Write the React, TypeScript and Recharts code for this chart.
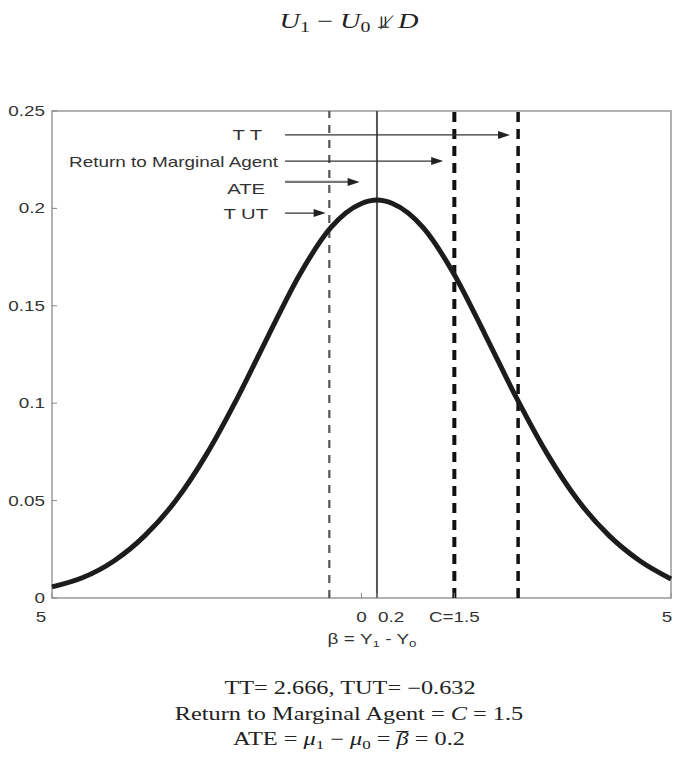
import React from "react";
import {
  LineChart,
  Line,
  XAxis,
  YAxis,
  ReferenceLine,
  ReferenceArea,
} from "recharts";

// density of beta = Y1 - Y0
const betaValues = [
  -5, -4.5, -4, -3.5, -3, -2.5, -2, -1.5, -1, -0.5, 0, 0.25, 0.5, 1, 1.5, 2,
  2.5, 3, 3.5, 4, 4.5, 5,
];
const densityValues = [
  0.0057, 0.0105, 0.019, 0.032, 0.05, 0.074, 0.103, 0.135, 0.166, 0.19,
  0.2025, 0.2043, 0.2025, 0.19, 0.166, 0.135, 0.103, 0.074, 0.05, 0.032, 0.019,
  0.0098,
];

const xTickValues = [-5, 0, 0.25, 1.5, 5];
const xTickLabels = ["5", "0", "0.2", "C=1.5", "5"];
const yTickValues = [0, 0.05, 0.1, 0.15, 0.2, 0.25];
const yTickLabels = ["0", "0.05", "0.1", "0.15", "0.2", "0.25"];

// vertical markers: TUT, ATE (solid), C, TT
const tutX = -0.52;
const ateX = 0.25;
const marginalX = 1.5;
const ttX = 2.53;

// arrows pointing at the markers
const arrowLabels = ["T T", "Return to Marginal Agent", "ATE", "T UT"];
const arrowStart = -1.235;
const arrowEnds = [2.4, 1.32, -0.03, -0.58];
const arrowLevels = [0.2377, 0.2243, 0.2136, 0.1976];

const data = betaValues.map((b, i) => ({ beta: b, density: densityValues[i] }));

const SANS = "'Liberation Sans', Arial, sans-serif";
const SERIF = "'Liberation Serif', 'Times New Roman', serif";
const STRETCH = 1.35;

// per-tick nudges so labels sit where the figure has them
const xTickShift = [
  { dx: -11, anchor: "middle" },
  { dx: 0, anchor: "middle" },
  { dx: 1, anchor: "start" },
  { dx: 0, anchor: "middle" },
  { dx: -4, anchor: "middle" },
];

const XTick = (props: any) => {
  const { x, y, index } = props;
  const st = xTickShift[index] || { dx: 0, anchor: "middle" };
  return (
    <g>
      <line x1={x} y1={y} x2={x} y2={y - 5} stroke="#888" />
      <text
        transform={`translate(${x + st.dx} ${y + 19}) scale(${STRETCH} 1)`}
        textAnchor={st.anchor}
        dy="0.35em"
        fontSize={14}
        fontFamily={SANS}
        fill="#333"
      >
        {xTickLabels[index]}
      </text>
    </g>
  );
};

const YTick = (props: any) => {
  const { x, y, index } = props;
  return (
    <g>
      <line x1={x} y1={y} x2={x + 5} y2={y} stroke="#888" />
      <text
        transform={`translate(${x - 7} ${y}) scale(${STRETCH} 1)`}
        textAnchor="end"
        dy="0.35em"
        fontSize={14}
        fontFamily={SANS}
        fill="#333"
      >
        {yTickLabels[index]}
      </text>
    </g>
  );
};

const labelOffsets = [
  { dx: -23, dy: 0 },
  { dx: -7, dy: 1 },
  { dx: -20, dy: 7 },
  { dx: -17, dy: 1 },
];

const makeArrow = (i: number) => (p: any) => {
  const { x1, y1, x2, y2 } = p;
  const off = labelOffsets[i];
  return (
    <g>
      <line
        x1={x1}
        y1={y1}
        x2={x2 - 8}
        y2={y2}
        stroke={i === 2 ? "#777" : "#333"}
        strokeWidth={i === 2 ? 2.2 : 1.2}
      />
      <polygon
        points={`${x2},${y2} ${x2 - 12},${y2 - 4} ${x2 - 12},${y2 + 4}`}
        fill="#222"
      />
      <text
        transform={`translate(${x1 + off.dx} ${y1 + off.dy}) scale(${STRETCH} 1)`}
        textAnchor="end"
        dy="0.35em"
        fontSize={i === 1 ? 14 : 15}
        fontFamily={SANS}
        fill="#333"
      >
        {arrowLabels[i]}
      </text>
    </g>
  );
};

const stretched = (left: number, top: number): React.CSSProperties => ({
  position: "absolute",
  left,
  top,
  transform: `translate(-50%, 0) scaleX(${STRETCH})`,
  whiteSpace: "nowrap",
  color: "#222",
});

const Sub = ({ children }: { children: React.ReactNode }) => (
  <span style={{ fontSize: "0.7em", position: "relative", top: "0.3em" }}>{children}</span>
);

export default function App() {
  return (
    <div
      style={{
        position: "absolute",
        left: 0,
        top: 0,
        width: 674,
        height: 761,
        background: "#fff",
        overflow: "hidden",
      }}
    >
      <div
        style={{
          ...stretched(349, 9),
          fontFamily: SERIF,
          fontSize: 21,
          lineHeight: "24px",
        }}
      >
        <i>U</i>
        <Sub>1</Sub> − <i>U</i>
        <Sub>0</Sub> <span style={{ fontFamily: "'DejaVu Sans', sans-serif", fontSize: 17 }}>⫫̸</span>{" "}
        <i>D</i>
      </div>

      <LineChart
        width={674}
        height={761}
        data={data}
        margin={{ top: 111, right: 3, bottom: 0, left: 0 }}
        style={{ position: "absolute", left: 0, top: 0 }}
      >
        <XAxis
          dataKey="beta"
          type="number"
          domain={[-5, 5]}
          ticks={xTickValues}
          interval={0}
          height={163}
          tickSize={0}
          tickMargin={0}
          axisLine={false}
          tickLine={false}
          tick={<XTick />}
        />
        <YAxis
          type="number"
          domain={[0, 0.25]}
          ticks={yTickValues}
          interval={0}
          width={52}
          tickSize={0}
          tickMargin={0}
          axisLine={false}
          tickLine={false}
          tick={<YTick />}
        />
        <ReferenceArea
          x1={-5}
          x2={5}
          y1={0}
          y2={0.25}
          fill="none"
          fillOpacity={0}
          stroke="#999"
          strokeWidth={1.5}
        />
        <ReferenceLine x={tutX} stroke="#555" strokeWidth={2.2} strokeDasharray="8 7" />
        <ReferenceLine x={ateX} stroke="#555" strokeWidth={2} />
        <ReferenceLine x={marginalX} stroke="#111" strokeWidth={4} strokeDasharray="10 7" />
        <ReferenceLine x={ttX} stroke="#111" strokeWidth={3.5} strokeDasharray="10 7" />
        {arrowLabels.map((label, i) => (
          <ReferenceLine
            key={label}
            segment={[
              { x: arrowStart, y: arrowLevels[i] },
              { x: arrowEnds[i], y: arrowLevels[i] },
            ]}
            shape={makeArrow(i)}
          />
        ))}
        <Line
          type="monotone"
          dataKey="density"
          stroke="#1c1c1c"
          strokeWidth={5}
          dot={false}
          activeDot={false}
          isAnimationActive={false}
        />
      </LineChart>

      <div style={{ ...stretched(372, 630), fontFamily: SANS, fontSize: 14, lineHeight: "18px", color: "#333" }}>
        β = Y<Sub>1</Sub> - Y<Sub>0</Sub>
      </div>

      <div style={{ ...stretched(350, 676), fontFamily: SERIF, fontSize: 18, lineHeight: "24px" }}>
        TT= 2.666, TUT= −0.632
      </div>
      <div style={{ ...stretched(349, 702), fontFamily: SERIF, fontSize: 18, lineHeight: "24px" }}>
        Return to Marginal Agent = <i>C</i> = 1.5
      </div>
      <div style={{ ...stretched(349, 727), fontFamily: SERIF, fontSize: 18, lineHeight: "24px" }}>
        ATE = <i>μ</i>
        <Sub>1</Sub> − <i>μ</i>
        <Sub>0</Sub> ={" "}
        <i style={{ borderTop: "1px solid #222", lineHeight: "14px", display: "inline-block" }}>β</i>{" "}
        = 0.2
      </div>
    </div>
  );
}
